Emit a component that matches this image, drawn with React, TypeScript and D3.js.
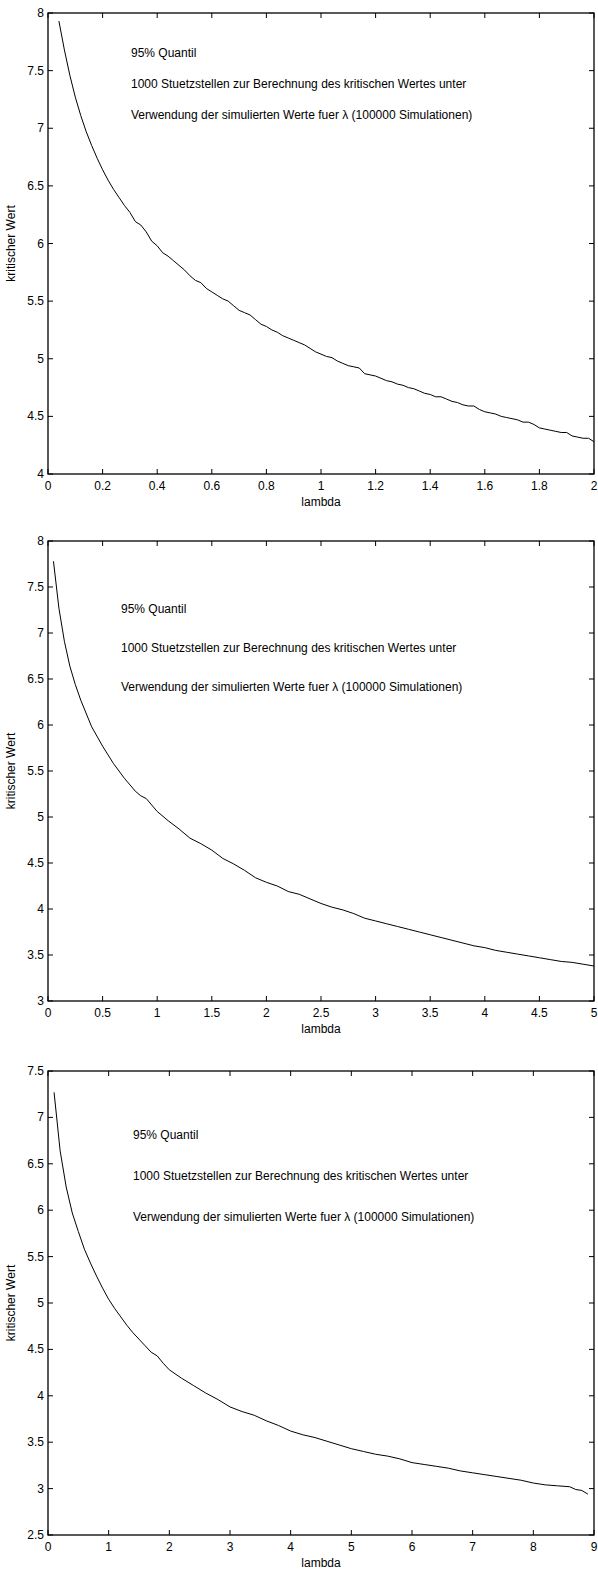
import React from 'react';
import * as d3 from 'd3';

// ---------- data ----------
const lambda1 = [0.04,0.06,0.08,0.10,0.12,0.14,0.16,0.18,0.20,0.22,0.24,0.26,0.28,0.30,0.32,0.34,0.36,0.38,0.40,0.42,0.44,0.46,0.48,0.50,0.52,0.54,0.56,0.58,0.60,0.62,0.64,0.66,0.68,0.70,0.72,0.74,0.76,0.78,0.80,0.82,0.84,0.86,0.88,0.90,0.92,0.94,0.96,0.98,1.00,1.02,1.04,1.06,1.08,1.10,1.12,1.14,1.16,1.18,1.20,1.22,1.24,1.26,1.28,1.30,1.32,1.34,1.36,1.38,1.40,1.42,1.44,1.46,1.48,1.50,1.52,1.54,1.56,1.58,1.60,1.62,1.64,1.66,1.68,1.70,1.72,1.74,1.76,1.78,1.80,1.82,1.84,1.86,1.88,1.90,1.92,1.94,1.96,1.98,2.00];
const crit1 = [7.93,7.68,7.46,7.27,7.11,6.97,6.85,6.74,6.64,6.55,6.47,6.40,6.33,6.27,6.19,6.16,6.10,6.02,5.98,5.92,5.89,5.85,5.81,5.77,5.72,5.68,5.66,5.61,5.58,5.55,5.52,5.50,5.46,5.42,5.40,5.38,5.34,5.30,5.28,5.25,5.23,5.20,5.18,5.16,5.14,5.12,5.09,5.06,5.04,5.02,5.01,4.98,4.96,4.94,4.93,4.92,4.87,4.86,4.85,4.83,4.81,4.80,4.78,4.77,4.75,4.74,4.72,4.70,4.69,4.67,4.67,4.65,4.63,4.62,4.60,4.59,4.59,4.56,4.54,4.53,4.52,4.50,4.49,4.48,4.47,4.45,4.45,4.43,4.40,4.39,4.38,4.37,4.36,4.36,4.33,4.32,4.31,4.31,4.28];

const lambda2 = [0.05,0.10,0.15,0.20,0.25,0.30,0.40,0.50,0.60,0.70,0.80,0.85,0.90,0.95,1.00,1.10,1.20,1.30,1.40,1.50,1.60,1.70,1.80,1.90,2.00,2.10,2.20,2.30,2.40,2.50,2.60,2.70,2.80,2.90,3.00,3.10,3.20,3.30,3.40,3.50,3.60,3.70,3.80,3.90,4.00,4.10,4.20,4.30,4.40,4.50,4.60,4.70,4.80,4.90,5.00];
const crit2 = [7.78,7.27,6.91,6.64,6.44,6.27,5.98,5.77,5.58,5.42,5.28,5.23,5.20,5.13,5.06,4.96,4.87,4.77,4.71,4.64,4.55,4.49,4.42,4.34,4.29,4.25,4.19,4.16,4.11,4.06,4.02,3.99,3.95,3.90,3.87,3.84,3.81,3.78,3.75,3.72,3.69,3.66,3.63,3.60,3.58,3.55,3.53,3.51,3.49,3.47,3.45,3.43,3.42,3.40,3.38];

const lambda3 = [0.1,0.2,0.3,0.4,0.5,0.6,0.7,0.8,0.9,1.0,1.1,1.2,1.3,1.4,1.5,1.6,1.7,1.8,1.9,2.0,2.2,2.4,2.6,2.8,3.0,3.2,3.4,3.6,3.8,4.0,4.2,4.4,4.6,4.8,5.0,5.2,5.4,5.6,5.8,6.0,6.2,6.4,6.6,6.8,7.0,7.2,7.4,7.6,7.8,8.0,8.2,8.4,8.6,8.7,8.8,8.9];
const crit3 = [7.27,6.64,6.25,5.97,5.77,5.58,5.43,5.29,5.16,5.04,4.94,4.85,4.76,4.68,4.61,4.54,4.47,4.43,4.35,4.28,4.19,4.11,4.03,3.96,3.88,3.83,3.79,3.73,3.68,3.62,3.58,3.55,3.51,3.47,3.43,3.40,3.37,3.35,3.32,3.28,3.26,3.24,3.22,3.19,3.17,3.15,3.13,3.11,3.09,3.06,3.04,3.03,3.02,2.99,2.98,2.94];

const xTicks1 = [0,0.2,0.4,0.6,0.8,1,1.2,1.4,1.6,1.8,2];
const yTicks1 = [4,4.5,5,5.5,6,6.5,7,7.5,8];
const xTicks2 = [0,0.5,1,1.5,2,2.5,3,3.5,4,4.5,5];
const yTicks2 = [3,3.5,4,4.5,5,5.5,6,6.5,7,7.5,8];
const xTicks3 = [0,1,2,3,4,5,6,7,8,9];
const yTicks3 = [2.5,3,3.5,4,4.5,5,5.5,6,6.5,7,7.5];

const annotation = [
  '95% Quantil',
  '1000 Stuetzstellen zur Berechnung des kritischen Wertes unter',
  'Verwendung der simulierten Werte fuer \u03bb (100000 Simulationen)',
];
const xLabel = 'lambda';
const yLabel = 'kritischer Wert';

// ---------- layout ----------
const W = 598;
const H = 1570;
const LEFT = 48;
const RIGHT = 594;
const FONT = '"Liberation Sans", Arial, Helvetica, sans-serif';

const panels = [
  { xs: lambda1, ys: crit1, xTicks: xTicks1, yTicks: yTicks1, top: 13, bottom: 474, textX: 131, textY: [53, 84, 115] },
  { xs: lambda2, ys: crit2, xTicks: xTicks2, yTicks: yTicks2, top: 541, bottom: 1001, textX: 121, textY: [609, 648, 687] },
  { xs: lambda3, ys: crit3, xTicks: xTicks3, yTicks: yTicks3, top: 1071, bottom: 1535, textX: 133, textY: [1135, 1176, 1217] },
];

function Panel({ p }: { p: any }) {
  const x = d3.scaleLinear().domain([p.xTicks[0], p.xTicks[p.xTicks.length - 1]]).range([LEFT, RIGHT]);
  const y = d3.scaleLinear().domain([p.yTicks[0], p.yTicks[p.yTicks.length - 1]]).range([p.bottom, p.top]);
  const pts: [number, number][] = p.xs.map((v: number, i: number) => [v, p.ys[i]]);
  const line = d3.line<[number, number]>().x(d => x(d[0])).y(d => y(d[1]));
  const TL = 5;
  return (
    <g>
      <path d={line(pts) || ''} fill="none" stroke="#000" strokeWidth={1} />
      {p.xTicks.map((t: number) => (
        <g key={'x' + t}>
          <line x1={x(t)} x2={x(t)} y1={p.bottom} y2={p.bottom - TL} stroke="#000" strokeWidth={1} />
          <line x1={x(t)} x2={x(t)} y1={p.top} y2={p.top + TL} stroke="#000" strokeWidth={1} />
          <text x={x(t)} y={p.bottom + 16} textAnchor="middle" fontSize={12} fontFamily={FONT}>{String(t)}</text>
        </g>
      ))}
      {p.yTicks.map((t: number) => (
        <g key={'y' + t}>
          <line x1={LEFT} x2={LEFT + TL} y1={y(t)} y2={y(t)} stroke="#000" strokeWidth={1} />
          <line x1={RIGHT} x2={RIGHT - TL} y1={y(t)} y2={y(t)} stroke="#000" strokeWidth={1} />
          <text x={LEFT - 4} y={y(t) + 4} textAnchor="end" fontSize={12} fontFamily={FONT}>{String(t)}</text>
        </g>
      ))}
      <rect x={LEFT} y={p.top} width={RIGHT - LEFT} height={p.bottom - p.top} fill="none" stroke="#000" strokeWidth={1.3} />
      <text x={(LEFT + RIGHT) / 2} y={p.bottom + 32} textAnchor="middle" fontSize={12} fontFamily={FONT}>{xLabel}</text>
      <text transform={`translate(15,${(p.top + p.bottom) / 2}) rotate(-90)`} textAnchor="middle" fontSize={12} fontFamily={FONT}>{yLabel}</text>
      {annotation.map((s, i) => (
        <text key={i} x={p.textX} y={p.textY[i] + 4} fontSize={12} fontFamily={FONT}>{s}</text>
      ))}
    </g>
  );
}

export default function App() {
  return (
    <svg width={W} height={H} style={{ position: 'absolute', left: 0, top: 0, background: '#fff' }}>
      <rect x={0} y={0} width={W} height={H} fill="#fff" />
      {panels.map((p, i) => <Panel key={i} p={p} />)}
    </svg>
  );
}
